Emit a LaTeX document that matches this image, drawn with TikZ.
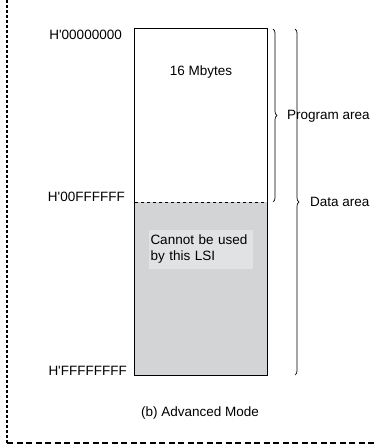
\documentclass[tikz,border=0pt]{standalone}
\usepackage{fontspec}
\setmainfont{Liberation Sans}
\usetikzlibrary{positioning,decorations.pathreplacing}

\definecolor{memgray}{RGB}{211,212,214}
\definecolor{lsigray}{RGB}{225,226,228}

\newcommand{\hq}{H\textquotesingle}

\begin{document}
\begin{tikzpicture}[x=1pt, y=-1pt, font=\fontsize{13.5}{16}\selectfont,
  addr/.style={anchor=east, inner sep=0pt},
  area/.style={anchor=west, inner sep=0pt},
  membrace/.style={decorate, decoration={brace, amplitude=4pt}, line width=0.7pt}]

\useasboundingbox (0,0) rectangle (375,445);

% Frame
\coordinate (ftop) at (7,0);
\coordinate (fcorner) at (7,443);
\coordinate (fright) at (375,443);
\draw[line width=1.3pt, dash pattern=on 3pt off 2pt] (ftop) -- (fcorner);
\draw[line width=1.3pt, dash pattern=on 6pt off 3.5pt] (fcorner) -- (fright);

% Memory map
\node[fill=white, minimum width=132pt, minimum height=173pt, inner sep=0pt] (prog) at (201,115.5) {};
\node[fill=memgray, minimum width=132pt, minimum height=173pt, inner sep=0pt] (data) at (201,288.5) {};
\draw[dashed, line width=0.6pt] (data.north west) -- (data.north east);
\draw[line width=1.3pt] (prog.north west) rectangle (data.south east);

\node (size) at (201,72) {16 Mbytes};
\node[fill=lsigray, text width=101pt, align=left, inner xsep=1.5pt, inner ysep=4pt, minimum height=39pt] (lsi) at (201,249.5)
  {Cannot be used\\by this LSI};

% Addresses
\node[addr] (a0) at (122,35) {\hq00000000};
\node[addr] (a1) at (125,197) {\hq00FFFFFF};
\node[addr] (a2) at (127,371) {\hq FFFFFFFF};

% Areas
\draw[membrace] (273,29) -- (273,202);
\node[area] (progarea) at (287,116) {Program area};
\draw[membrace] (295,29) -- (295,375);
\node[area] (dataarea) at (310,202) {Data area};

% Caption
\node (caption) at (200,413) {(b) Advanced Mode};

\end{tikzpicture}
\end{document}
